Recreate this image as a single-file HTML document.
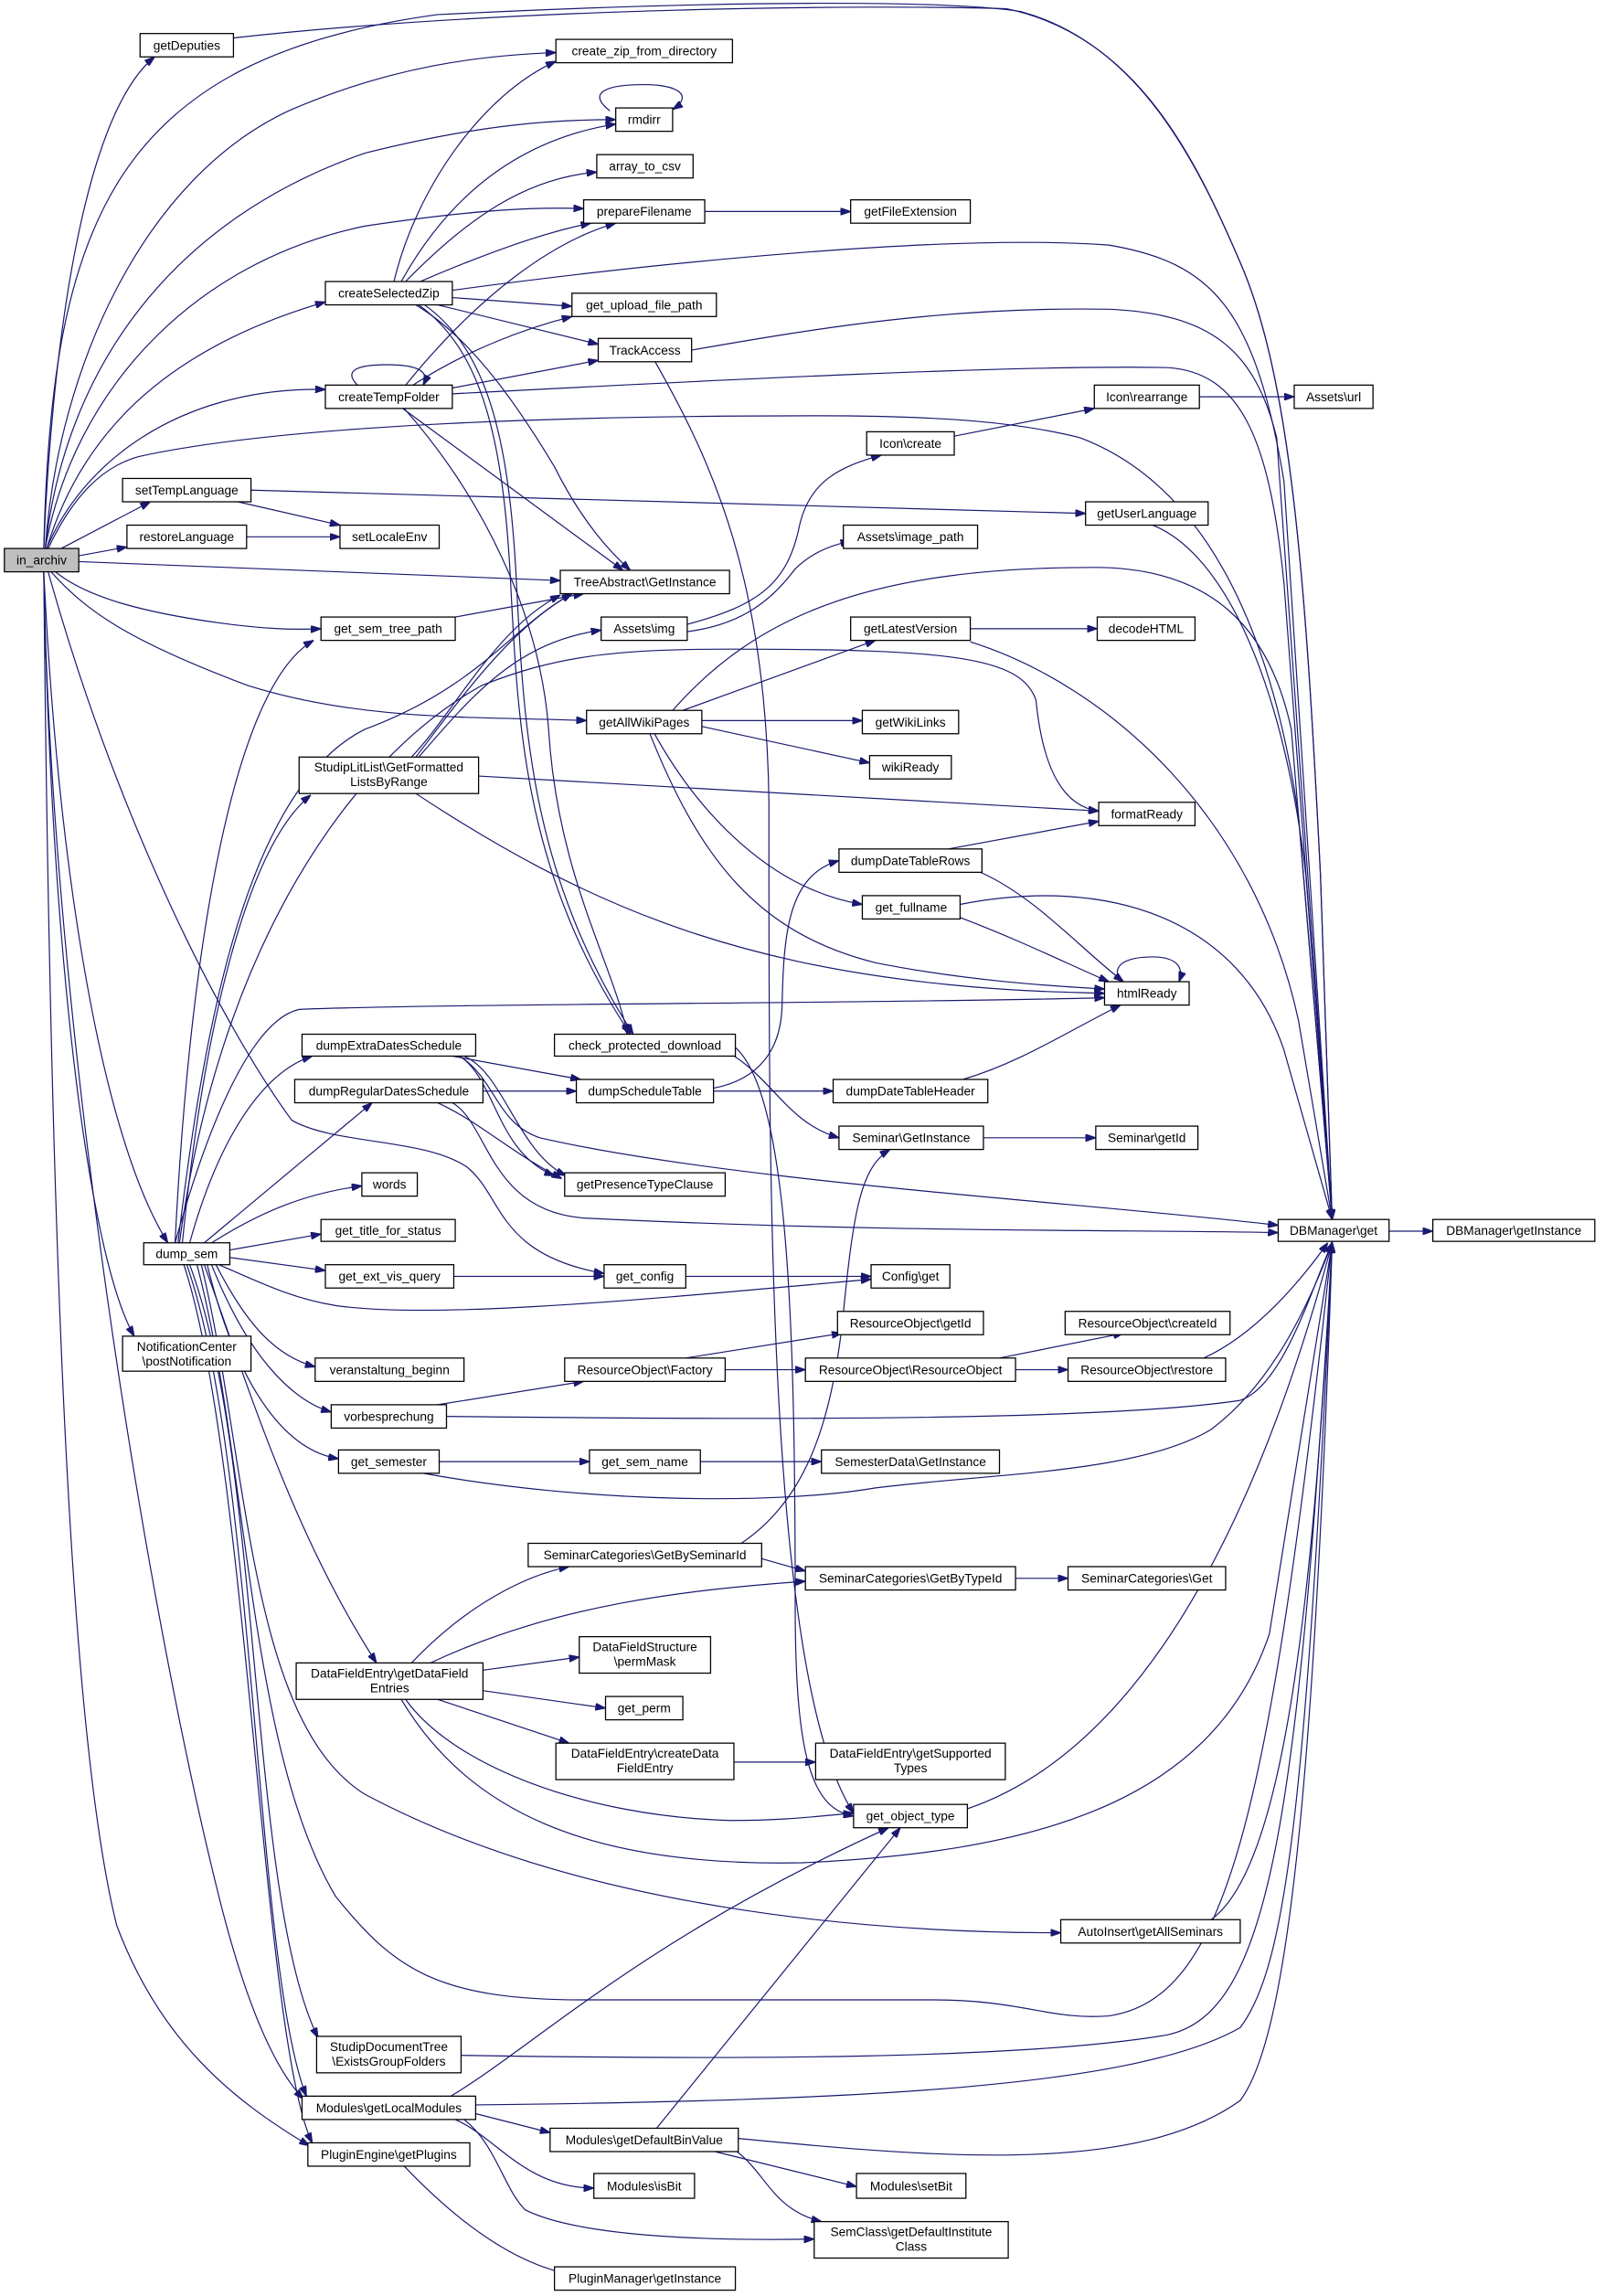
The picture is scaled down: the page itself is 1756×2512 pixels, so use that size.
<!DOCTYPE html>
<html><head><meta charset="utf-8"><style>
html,body{margin:0;padding:0;background:#fff;}
svg{display:block;}
text{font-family:"Liberation Sans","DejaVu Sans",sans-serif;font-size:8.6px;fill:#000;}
.e{fill:none;stroke:#191970;stroke-width:0.75;}
.n{fill:#fff;stroke:#000;stroke-width:0.8;}
</style></head><body>
<svg width="1756" height="2512" viewBox="0 0 1100 1574" preserveAspectRatio="none" xmlns="http://www.w3.org/2000/svg">
<defs><marker id="a" markerUnits="userSpaceOnUse" markerWidth="7" markerHeight="5" viewBox="0 0 10 7" refX="10" refY="3.5" orient="auto"><path d="M0,0 L10,3.5 L0,7 z" fill="#191970" stroke="#191970"/></marker></defs>
<g class="e" marker-end="url(#a)">
<path d="M30,376 C35,250 55,80 106,39"/>
<path d="M30,376 C35,150 80,40 300,10 C500,0 650,0 700,8 C780,30 820,110 850,180 C885,260 895,400 905,600 L913,836"/>
<path d="M160,26 C350,5 600,3 690,6 C780,25 820,110 850,180 C885,260 895,400 905,600 L913,836"/>
<path d="M31,376 C40,250 100,120 200,75 C270,45 330,38 381,36"/>
<path d="M31,376 C45,250 120,150 250,105 C330,85 380,82 422,82"/>
<path d="M31,376 C50,270 130,180 250,155 C330,143 370,142 400,143"/>
<path d="M32,376 C55,300 110,240 223,207"/>
<path d="M32,376 C55,320 120,265 223,267"/>
<path d="M33,376 C50,340 70,320 95,313 C200,290 400,285 560,285 C650,285 700,290 740,300 C820,330 870,420 890,560 L913,836"/>
<path d="M42,376 L103,344"/>
<path d="M54,381 L87,375"/>
<path d="M54,385 L384,398"/>
<path d="M38,392 C60,410 100,420 150,427 C180,431 200,432 220,431"/>
<path d="M35,392 C60,420 90,440 170,470 C250,495 330,491 402,494"/>
<path d="M33,392 C80,560 150,700 200,768 C230,785 290,780 320,800 C345,820 340,860 414,873"/>
<path d="M30,392 C40,600 70,780 115,852"/>
<path d="M30,392 C35,650 60,860 92,916"/>
<path d="M30,392 C35,900 50,1200 80,1320 C110,1400 160,1440 212,1471"/>
<path d="M30,392 C35,700 100,1100 150,1300 C170,1380 190,1420 208,1439"/>
<path d="M120,852 C140,780 170,700 205,692 C300,688 600,688 757,684"/>
<path d="M122,852 C140,700 170,540 250,500 C330,470 350,430 392,407"/>
<path d="M120,852 C130,650 160,470 215,439"/>
<path d="M125,852 C140,700 170,580 213,545"/>
<path d="M130,852 C150,780 180,735 214,724"/>
<path d="M140,852 L255,756"/>
<path d="M145,852 C180,830 210,818 248,813"/>
<path d="M157,857 L220,846"/>
<path d="M157,862 L223,871"/>
<path d="M150,867 C180,880 200,890 230,895 C300,905 450,890 597,877"/>
<path d="M123,852 C150,650 240,520 330,470 C380,450 420,445 500,445 C650,445 700,450 710,480 C715,530 730,553 753,556"/>
<path d="M148,867 C170,910 190,930 216,937"/>
<path d="M145,867 C170,930 200,960 227,968"/>
<path d="M142,867 C165,960 200,995 232,1000"/>
<path d="M140,867 C170,950 200,1050 258,1140"/>
<path d="M138,867 C170,1000 170,1180 250,1230 C400,1310 600,1325 727,1325"/>
<path d="M135,867 C170,1000 170,1200 230,1300 C270,1350 300,1371 400,1371 L640,1371 C700,1371 720,1385 760,1382 C840,1370 870,1250 913,851"/>
<path d="M130,867 C180,1000 170,1300 218,1397"/>
<path d="M128,867 C175,1000 175,1350 210,1437"/>
<path d="M126,867 C170,1000 180,1400 214,1469"/>
<path d="M270,193 C285,130 330,65 381,42"/>
<path d="M275,193 C310,130 360,95 422,85"/>
<path d="M278,193 C320,150 360,122 409,118"/>
<path d="M288,193 C330,175 370,160 405,153"/>
<path d="M310,199 C450,180 650,160 760,168 C830,180 860,210 880,330 L913,836"/>
<path d="M310,204 L392,210"/>
<path d="M300,209 L410,236"/>
<path d="M285,209 C320,230 350,270 380,320 C400,360 420,380 432,391"/>
<path d="M287,209 C330,240 345,300 350,400 C355,500 360,600 432,709"/>
<path d="M291,209 C334,240 349,300 354,400 C359,500 364,600 434,709"/>
<path d="M245,264 C235,254 245,250 265,250 C285,250 295,254 290,264"/>
<path d="M278,264 C330,200 380,165 422,153"/>
<path d="M283,264 C320,240 360,225 392,217"/>
<path d="M310,266 L410,247"/>
<path d="M310,270 C500,260 700,250 800,252 C850,255 870,300 880,400 L913,836"/>
<path d="M276,280 L427,391"/>
<path d="M277,280 C330,340 370,420 376,500 C382,600 420,660 430,709"/>
<path d="M474,240 C560,225 650,210 760,212 C830,215 860,240 875,300 L913,836"/>
<path d="M449,248 C490,320 525,400 527,550 C527,800 525,1150 585,1243"/>
<path d="M418,76 C400,62 420,58 441,58 C466,58 475,66 461,75"/>
<path d="M483,145 L583,145"/>
<path d="M172,336 L744,352"/>
<path d="M163,344 L233,360"/>
<path d="M169,368 L233,368"/>
<path d="M790,360 C840,380 880,470 895,600 L913,836"/>
<path d="M654,299 L750,280"/>
<path d="M822,272 L887,272"/>
<path d="M471,428 C520,415 540,400 548,360 C555,330 575,320 604,312"/>
<path d="M471,433 C510,428 530,410 545,390 C555,380 568,374 583,371"/>
<path d="M312,423 L400,407"/>
<path d="M282,519 C310,490 340,430 384,408"/>
<path d="M285,519 C315,480 350,430 392,407"/>
<path d="M287,519 C325,475 355,440 412,432"/>
<path d="M328,532 L753,556"/>
<path d="M285,544 C400,620 500,660 650,675 C700,680 730,680 757,681"/>
<path d="M665,431 L752,431"/>
<path d="M665,440 C760,470 860,560 890,700 L913,836"/>
<path d="M468,487 L600,439"/>
<path d="M461,487 C520,420 600,389 750,389 C830,389 870,430 885,500 L913,836"/>
<path d="M481,494 L591,494"/>
<path d="M481,498 L596,523"/>
<path d="M448,502 C480,560 530,610 591,620"/>
<path d="M445,502 C480,590 520,640 600,660 C660,672 720,676 757,678"/>
<path d="M650,582 L753,563"/>
<path d="M672,598 C710,615 740,650 770,673"/>
<path d="M658,629 C700,645 730,660 760,673"/>
<path d="M658,620 C760,600 850,630 880,720 L913,836"/>
<path d="M768,673 C760,660 775,656 790,656 C805,656 812,662 808,673"/>
<path d="M660,740 C700,728 730,708 768,689"/>
<path d="M489,748 L571,748"/>
<path d="M489,746 C520,740 535,720 536,690 C537,640 540,600 575,590"/>
<path d="M310,724 L398,740"/>
<path d="M331,748 L395,748"/>
<path d="M315,724 C340,740 340,790 380,806"/>
<path d="M318,724 C345,735 355,790 388,806"/>
<path d="M300,756 C330,770 350,790 385,808"/>
<path d="M315,724 C340,740 340,770 370,780 C500,810 750,825 876,840"/>
<path d="M310,756 C335,770 335,830 400,835 C600,845 780,843 876,845"/>
<path d="M500,722 C530,740 540,770 575,780"/>
<path d="M500,715 C540,740 545,900 545,1100 C545,1200 555,1240 585,1245"/>
<path d="M674,780 L751,780"/>
<path d="M952,844 L982,844"/>
<path d="M311,875 L414,875"/>
<path d="M470,875 L597,875"/>
<path d="M470,931 L577,914"/>
<path d="M497,939 L552,939"/>
<path d="M696,939 L732,939"/>
<path d="M685,931 L770,914"/>
<path d="M825,931 C860,915 890,880 910,852"/>
<path d="M300,963 L400,947"/>
<path d="M306,971 C500,973 750,975 850,960 C880,950 900,880 913,852"/>
<path d="M301,1002 L404,1002"/>
<path d="M480,1002 L563,1002"/>
<path d="M290,1010 C400,1030 530,1032 600,1020 C680,1010 780,1010 830,980 C870,950 895,900 913,852"/>
<path d="M520,1068 L552,1077"/>
<path d="M508,1058 C550,1030 570,980 578,900 C585,830 590,800 610,788"/>
<path d="M696,1082 L732,1082"/>
<path d="M282,1140 C320,1100 360,1080 390,1074"/>
<path d="M295,1140 C380,1100 470,1090 552,1084"/>
<path d="M331,1145 L397,1136"/>
<path d="M331,1159 L415,1171"/>
<path d="M300,1165 L390,1195"/>
<path d="M278,1165 C310,1210 400,1245 500,1248 C540,1248 560,1245 585,1243"/>
<path d="M275,1165 C320,1240 400,1280 550,1277 C700,1270 830,1240 870,1120 L913,852"/>
<path d="M503,1208 L559,1208"/>
<path d="M663,1240 C780,1200 860,1050 913,852"/>
<path d="M830,1316 C880,1280 900,1100 913,852"/>
<path d="M316,1409 C500,1412 700,1412 800,1395 C870,1380 890,1250 913,852"/>
<path d="M309,1437 C370,1400 440,1330 609,1253"/>
<path d="M326,1449 L377,1462"/>
<path d="M312,1453 C340,1465 360,1500 407,1500"/>
<path d="M318,1453 C340,1470 345,1500 360,1515 C400,1535 500,1536 558,1535"/>
<path d="M326,1443 C600,1440 780,1430 850,1390 C880,1350 895,1250 913,852"/>
<path d="M450,1459 L617,1253"/>
<path d="M490,1475 L587,1499"/>
<path d="M505,1475 C525,1490 530,1515 563,1523"/>
<path d="M506,1466 C650,1480 780,1490 850,1440 C880,1400 900,1250 913,852"/>
<path d="M277,1485 C320,1530 360,1555 396,1560"/>
</g>
<g>
<rect x="3" y="376" width="51" height="16" fill="#bfbfbf" stroke="#000" stroke-width="0.8"/><text x="28.5" y="387" text-anchor="middle">in_archiv</text>
</g>
<g text-anchor="middle">
<rect class="n" x="96" y="23" width="64" height="16"/><text x="128" y="34" text-anchor="middle">getDeputies</text>
<rect class="n" x="381" y="27" width="121" height="16"/><text x="441.5" y="38" text-anchor="middle">create_zip_from_directory</text>
<rect class="n" x="422" y="74" width="39" height="16"/><text x="441.5" y="85" text-anchor="middle">rmdirr</text>
<rect class="n" x="409" y="106" width="66" height="16"/><text x="442" y="117" text-anchor="middle">array_to_csv</text>
<rect class="n" x="400" y="137" width="83" height="16"/><text x="441.5" y="148" text-anchor="middle">prepareFilename</text>
<rect class="n" x="583" y="137" width="82" height="16"/><text x="624" y="148" text-anchor="middle">getFileExtension</text>
<rect class="n" x="223" y="193" width="87" height="16"/><text x="266.5" y="204" text-anchor="middle">createSelectedZip</text>
<rect class="n" x="392" y="201" width="99" height="16"/><text x="441.5" y="212" text-anchor="middle">get_upload_file_path</text>
<rect class="n" x="410" y="232" width="64" height="16"/><text x="442" y="243" text-anchor="middle">TrackAccess</text>
<rect class="n" x="223" y="264" width="87" height="16"/><text x="266.5" y="275" text-anchor="middle">createTempFolder</text>
<rect class="n" x="750" y="264" width="72" height="16"/><text x="786" y="275" text-anchor="middle">Icon\rearrange</text>
<rect class="n" x="887" y="264" width="54" height="16"/><text x="914" y="275" text-anchor="middle">Assets\url</text>
<rect class="n" x="594" y="296" width="60" height="16"/><text x="624" y="307" text-anchor="middle">Icon\create</text>
<rect class="n" x="84" y="328" width="88" height="16"/><text x="128" y="339" text-anchor="middle">setTempLanguage</text>
<rect class="n" x="744" y="344" width="84" height="16"/><text x="786" y="355" text-anchor="middle">getUserLanguage</text>
<rect class="n" x="87" y="360" width="82" height="16"/><text x="128" y="371" text-anchor="middle">restoreLanguage</text>
<rect class="n" x="233" y="360" width="68" height="16"/><text x="267" y="371" text-anchor="middle">setLocaleEnv</text>
<rect class="n" x="578" y="360" width="92" height="16"/><text x="624" y="371" text-anchor="middle">Assets\image_path</text>
<rect class="n" x="384" y="391" width="116" height="16"/><text x="442" y="402" text-anchor="middle">TreeAbstract\GetInstance</text>
<rect class="n" x="220" y="423" width="92" height="16"/><text x="266" y="434" text-anchor="middle">get_sem_tree_path</text>
<rect class="n" x="412" y="423" width="59" height="16"/><text x="441.5" y="434" text-anchor="middle">Assets\img</text>
<rect class="n" x="583" y="423" width="82" height="16"/><text x="624" y="434" text-anchor="middle">getLatestVersion</text>
<rect class="n" x="752" y="423" width="67" height="16"/><text x="785.5" y="434" text-anchor="middle">decodeHTML</text>
<rect class="n" x="402" y="487" width="79" height="16"/><text x="441.5" y="498" text-anchor="middle">getAllWikiPages</text>
<rect class="n" x="591" y="487" width="66" height="16"/><text x="624" y="498" text-anchor="middle">getWikiLinks</text>
<rect class="n" x="596" y="518" width="56" height="16"/><text x="624" y="529" text-anchor="middle">wikiReady</text>
<rect class="n" x="205" y="519" width="123" height="25"/><text x="266.5" y="529" text-anchor="middle">StudipLitList\GetFormatted</text><text x="266.5" y="539" text-anchor="middle">ListsByRange</text>
<rect class="n" x="753" y="550" width="66" height="16"/><text x="786" y="561" text-anchor="middle">formatReady</text>
<rect class="n" x="575" y="582" width="98" height="16"/><text x="624" y="593" text-anchor="middle">dumpDateTableRows</text>
<rect class="n" x="591" y="614" width="67" height="16"/><text x="624.5" y="625" text-anchor="middle">get_fullname</text>
<rect class="n" x="757" y="673" width="58" height="16"/><text x="786" y="684" text-anchor="middle">htmlReady</text>
<rect class="n" x="207" y="709" width="119" height="15"/><text x="266.5" y="719.5" text-anchor="middle">dumpExtraDatesSchedule</text>
<rect class="n" x="380" y="709" width="124" height="15"/><text x="442" y="719.5" text-anchor="middle">check_protected_download</text>
<rect class="n" x="202" y="740" width="129" height="16"/><text x="266.5" y="751" text-anchor="middle">dumpRegularDatesSchedule</text>
<rect class="n" x="395" y="740" width="94" height="16"/><text x="442" y="751" text-anchor="middle">dumpScheduleTable</text>
<rect class="n" x="571" y="740" width="106" height="16"/><text x="624" y="751" text-anchor="middle">dumpDateTableHeader</text>
<rect class="n" x="575" y="772" width="99" height="16"/><text x="624.5" y="783" text-anchor="middle">Seminar\GetInstance</text>
<rect class="n" x="751" y="772" width="70" height="16"/><text x="786" y="783" text-anchor="middle">Seminar\getId</text>
<rect class="n" x="248" y="804" width="38" height="16"/><text x="267" y="815" text-anchor="middle">words</text>
<rect class="n" x="387" y="804" width="110" height="16"/><text x="442" y="815" text-anchor="middle">getPresenceTypeClause</text>
<rect class="n" x="876" y="836" width="76" height="15"/><text x="914" y="846.5" text-anchor="middle">DBManager\get</text>
<rect class="n" x="982" y="836" width="111" height="15"/><text x="1037.5" y="846.5" text-anchor="middle">DBManager\getInstance</text>
<rect class="n" x="220" y="836" width="92" height="15"/><text x="266" y="846.5" text-anchor="middle">get_title_for_status</text>
<rect class="n" x="98.5" y="852" width="59" height="15"/><text x="128" y="862.5" text-anchor="middle">dump_sem</text>
<rect class="n" x="223" y="867" width="88" height="16"/><text x="267" y="878" text-anchor="middle">get_ext_vis_query</text>
<rect class="n" x="414" y="867" width="56" height="16"/><text x="442" y="878" text-anchor="middle">get_config</text>
<rect class="n" x="597" y="867" width="54" height="16"/><text x="624" y="878" text-anchor="middle">Config\get</text>
<rect class="n" x="574" y="899" width="100" height="16"/><text x="624" y="910" text-anchor="middle">ResourceObject\getId</text>
<rect class="n" x="730" y="899" width="113" height="16"/><text x="786.5" y="910" text-anchor="middle">ResourceObject\createId</text>
<rect class="n" x="84" y="916" width="88" height="24"/><text x="128" y="926" text-anchor="middle">NotificationCenter</text><text x="128" y="936" text-anchor="middle">\postNotification</text>
<rect class="n" x="216" y="931" width="102" height="16"/><text x="267" y="942" text-anchor="middle">veranstaltung_beginn</text>
<rect class="n" x="387" y="931" width="110" height="16"/><text x="442" y="942" text-anchor="middle">ResourceObject\Factory</text>
<rect class="n" x="552" y="931" width="144" height="16"/><text x="624" y="942" text-anchor="middle">ResourceObject\ResourceObject</text>
<rect class="n" x="732" y="931" width="108" height="16"/><text x="786" y="942" text-anchor="middle">ResourceObject\restore</text>
<rect class="n" x="227" y="963" width="79" height="16"/><text x="266.5" y="974" text-anchor="middle">vorbesprechung</text>
<rect class="n" x="232" y="994" width="69" height="16"/><text x="266.5" y="1005" text-anchor="middle">get_semester</text>
<rect class="n" x="404" y="994" width="76" height="16"/><text x="442" y="1005" text-anchor="middle">get_sem_name</text>
<rect class="n" x="563" y="994" width="122" height="16"/><text x="624" y="1005" text-anchor="middle">SemesterData\GetInstance</text>
<rect class="n" x="362" y="1058" width="160" height="16"/><text x="442" y="1069" text-anchor="middle">SeminarCategories\GetBySeminarId</text>
<rect class="n" x="552" y="1074" width="144" height="16"/><text x="624" y="1085" text-anchor="middle">SeminarCategories\GetByTypeId</text>
<rect class="n" x="732" y="1074" width="108" height="16"/><text x="786" y="1085" text-anchor="middle">SeminarCategories\Get</text>
<rect class="n" x="397" y="1122" width="90" height="25"/><text x="442" y="1132" text-anchor="middle">DataFieldStructure</text><text x="442" y="1142" text-anchor="middle">\permMask</text>
<rect class="n" x="203" y="1140" width="128" height="25"/><text x="267" y="1150" text-anchor="middle">DataFieldEntry\getDataField</text><text x="267" y="1160" text-anchor="middle">Entries</text>
<rect class="n" x="415" y="1163" width="53" height="16"/><text x="441.5" y="1174" text-anchor="middle">get_perm</text>
<rect class="n" x="381" y="1195" width="122" height="25"/><text x="442" y="1205" text-anchor="middle">DataFieldEntry\createData</text><text x="442" y="1215" text-anchor="middle">FieldEntry</text>
<rect class="n" x="559" y="1195" width="130" height="25"/><text x="624" y="1205" text-anchor="middle">DataFieldEntry\getSupported</text><text x="624" y="1215" text-anchor="middle">Types</text>
<rect class="n" x="585" y="1237" width="78" height="16"/><text x="624" y="1248" text-anchor="middle">get_object_type</text>
<rect class="n" x="727" y="1316" width="123" height="16"/><text x="788.5" y="1327" text-anchor="middle">AutoInsert\getAllSeminars</text>
<rect class="n" x="217" y="1396" width="99" height="25"/><text x="266.5" y="1406" text-anchor="middle">StudipDocumentTree</text><text x="266.5" y="1416" text-anchor="middle">\ExistsGroupFolders</text>
<rect class="n" x="207" y="1437" width="119" height="16"/><text x="266.5" y="1448" text-anchor="middle">Modules\getLocalModules</text>
<rect class="n" x="377" y="1459" width="129" height="16"/><text x="441.5" y="1470" text-anchor="middle">Modules\getDefaultBinValue</text>
<rect class="n" x="211" y="1469" width="111" height="16"/><text x="266.5" y="1480" text-anchor="middle">PluginEngine\getPlugins</text>
<rect class="n" x="407" y="1490" width="69" height="17"/><text x="441.5" y="1501.5" text-anchor="middle">Modules\isBit</text>
<rect class="n" x="587" y="1490" width="75" height="17"/><text x="624.5" y="1501.5" text-anchor="middle">Modules\setBit</text>
<rect class="n" x="558" y="1523" width="133" height="25"/><text x="624.5" y="1533" text-anchor="middle">SemClass\getDefaultInstitute</text><text x="624.5" y="1543" text-anchor="middle">Class</text>
<rect class="n" x="380" y="1554" width="124" height="16"/><text x="442" y="1565" text-anchor="middle">PluginManager\getInstance</text>
</g>
</svg>
</body></html>
